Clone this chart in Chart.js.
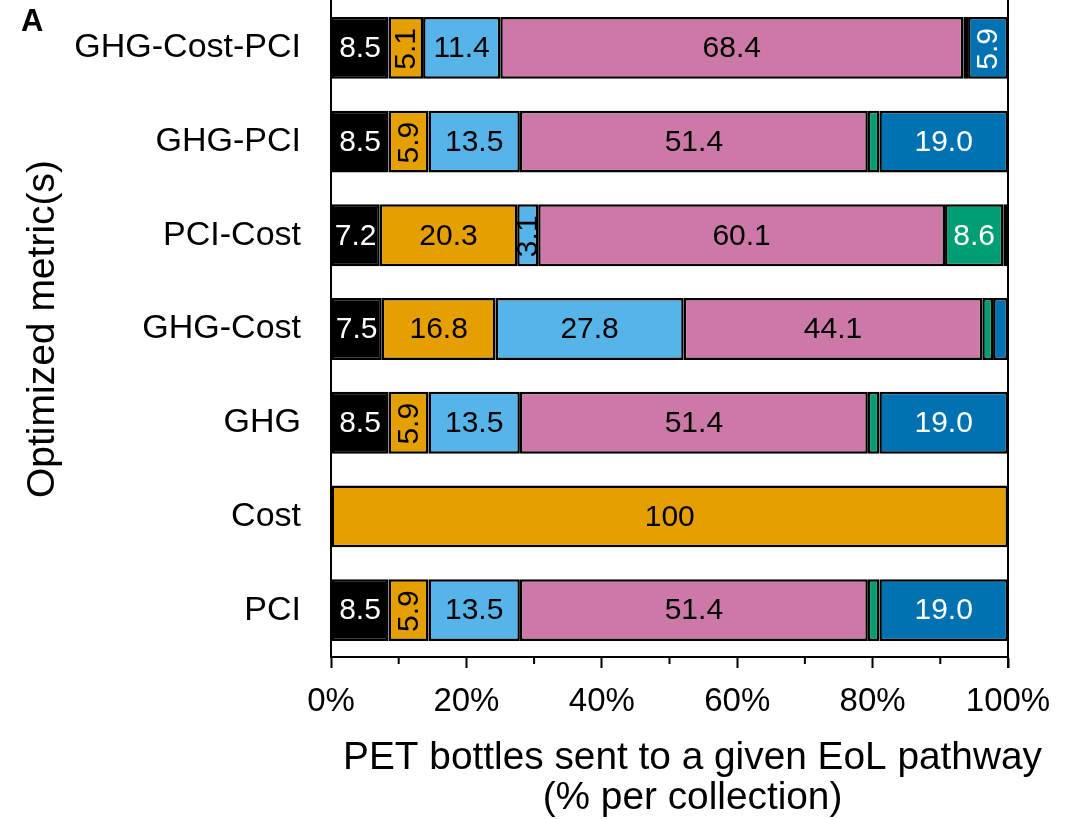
<!DOCTYPE html>
<html>
<head>
<meta charset="utf-8">
<script src="https://cdn.jsdelivr.net/npm/chart.js@4/dist/chart.umd.min.js"></script>
<style>
  html, body { margin: 0; padding: 0; background: #fff; }
  #wrap { width: 1066px; height: 819px; }
</style>
</head>
<body>
<div id="wrap"><canvas id="c" width="1066" height="819"></canvas></div>
<script>
// Share of PET bottles sent to each end-of-life pathway, per optimized metric set
const categories = ['GHG-Cost-PCI', 'GHG-PCI', 'PCI-Cost', 'GHG-Cost', 'GHG', 'Cost', 'PCI'];
const pathway1 = [8.5, 8.5, 7.2, 7.5, 8.5, 0, 8.5];
const pathway2 = [5.1, 5.9, 20.3, 16.8, 5.9, 100, 5.9];
const pathway3 = [11.4, 13.5, 3.1, 27.8, 13.5, 0, 13.5];
const pathway4 = [68.4, 51.4, 60.1, 44.1, 51.4, 0, 51.4];
const pathway5 = [0.7, 1.7, 8.6, 1.6, 1.7, 0, 1.7];
const pathway6 = [5.9, 19.0, 0.7, 2.2, 19.0, 0, 19.0];
const xTickValues = [0, 20, 40, 60, 80, 100];
const xMinorTicks = [10, 30, 50, 70, 90];
const xTitleLines = ['PET bottles sent to a given EoL pathway', '(% per collection)'];

const seriesColors = ['#000000', '#E69F00', '#56B4E9', '#CC79A7', '#009E73', '#0072B2'];
const labelColors = ['#ffffff', '#000000', '#000000', '#000000', '#ffffff', '#ffffff'];
const FONT = '"Liberation Sans", Arial, Helvetica, sans-serif';

const seriesData = [pathway1, pathway2, pathway3, pathway4, pathway5, pathway6];

const datasets = seriesData.map((vals, i) => ({
  label: 'EoL pathway ' + (i + 1),
  data: vals,
  backgroundColor: seriesColors[i],
  borderColor: '#000000',
  borderWidth: 2.5,
  borderSkipped: false,
  barPercentage: 0.66,
  categoryPercentage: 1.0
}));

// Value labels inside segments: wide ones horizontal, narrow ones rotated
const segmentLabels = {
  id: 'segmentLabels',
  afterDatasetsDraw(chart) {
    const ctx = chart.ctx;
    ctx.save();
    ctx.font = '30px ' + FONT;
    ctx.textAlign = 'center';
    ctx.textBaseline = 'middle';
    chart.data.datasets.forEach((ds, di) => {
      const meta = chart.getDatasetMeta(di);
      meta.data.forEach((bar, idx) => {
        const v = ds.data[idx];
        if (v < 3) return;
        const cx = (bar.x + bar.base) / 2;
        const cy = bar.y + 1;
        const txt = v === 100 ? '100' : v.toFixed(1);
        ctx.fillStyle = labelColors[di];
        if (v < 7) {
          ctx.save();
          ctx.translate(cx + 1, cy);
          ctx.rotate(-Math.PI / 2);
          ctx.fillText(txt, 0, 0);
          ctx.restore();
        } else {
          ctx.fillText(txt, cx, cy);
        }
      });
    });
    ctx.restore();
  }
};

// Right frame line, minor x ticks, x-axis title and panel letter
const frameDecor = {
  id: 'frameDecor',
  afterDraw(chart) {
    const ctx = chart.ctx;
    const area = chart.chartArea;
    const xs = chart.scales.x;
    ctx.save();
    ctx.strokeStyle = '#000000';
    ctx.lineWidth = 2;
    ctx.beginPath();
    ctx.moveTo(area.right, 0);
    ctx.lineTo(area.right, area.bottom + 11);
    ctx.moveTo(area.left, 0);
    ctx.lineTo(area.left, area.bottom);
    xMinorTicks.forEach(t => {
      const px = xs.getPixelForValue(t);
      ctx.moveTo(px, area.bottom);
      ctx.lineTo(px, area.bottom + 7);
    });
    ctx.stroke();

    ctx.fillStyle = '#000000';
    ctx.font = '38.8px ' + FONT;
    ctx.textAlign = 'center';
    ctx.textBaseline = 'middle';
    const titleX = (area.left + area.right) / 2 + 23;
    xTitleLines.forEach((line, i) => {
      ctx.fillText(line, titleX, area.bottom + 101 + i * 40);
    });

    ctx.font = 'bold 31px ' + FONT;
    ctx.textAlign = 'left';
    ctx.fillText('A', 21, 22);
    ctx.restore();
  }
};

new Chart(document.getElementById('c'), {
  type: 'bar',
  data: { labels: categories, datasets },
  options: {
    indexAxis: 'y',
    responsive: false,
    devicePixelRatio: 1,
    animation: false,
    layout: { padding: { top: 1, right: 58, bottom: 0, left: 20 } },
    plugins: {
      legend: { display: false },
      tooltip: { enabled: false },
      title: { display: false }
    },
    scales: {
      x: {
        stacked: true,
        min: 0,
        max: 100,
        afterBuildTicks(axis) {
          axis.ticks = xTickValues.map(v => ({ value: v }));
        },
        afterFit(axis) { axis.height = 162; },
        ticks: {
          color: '#000000',
          font: { family: FONT, size: 33 },
          padding: 14,
          maxRotation: 0,
          callback: v => v + '%'
        },
        grid: {
          drawOnChartArea: false,
          drawTicks: true,
          tickLength: 11,
          tickWidth: 2,
          tickColor: '#000000'
        },
        border: { display: true, color: '#000000', width: 2 },
        title: { display: false }
      },
      y: {
        stacked: true,
        afterFit(axis) {
          axis.width = 311;
          axis.paddingTop = 0;
          axis.paddingBottom = 0;
        },
        ticks: {
          color: '#000000',
          font: { family: FONT, size: 34 },
          padding: 30
        },
        grid: { display: false, drawTicks: false },
        border: { display: true, color: '#000000', width: 2 },
        title: {
          display: true,
          text: 'Optimized metric(s)',
          color: '#000000',
          font: { family: FONT, size: 39 },
          padding: { top: 0, bottom: 0 }
        }
      }
    }
  },
  plugins: [segmentLabels, frameDecor]
});
</script>
</body>
</html>
